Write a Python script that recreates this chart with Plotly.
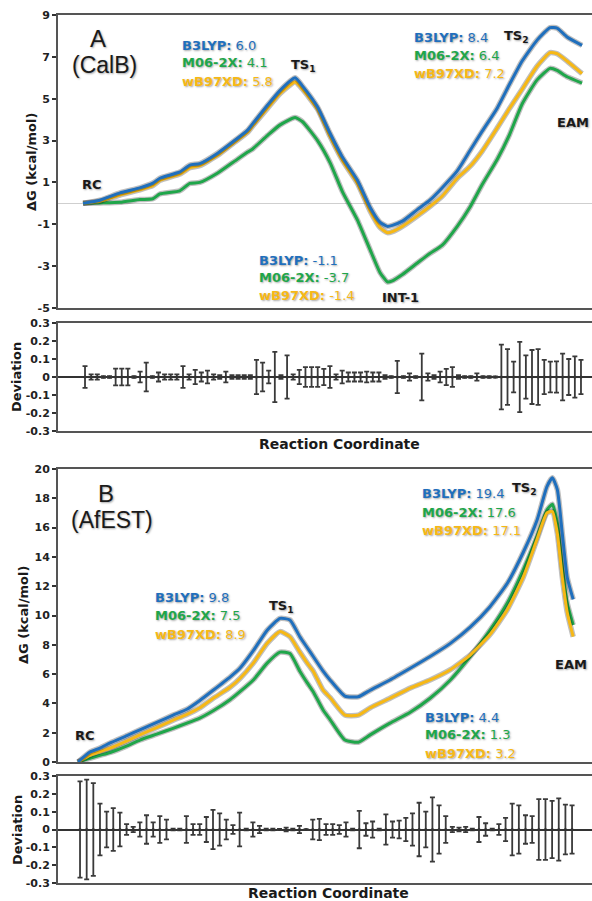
import plotly.graph_objects as go

W, H = 592, 901

methods = ["B3LYP", "M06-2X", "wB97XD"]
colors = {"B3LYP": "#1f6fbd", "M06-2X": "#1fa64a", "wB97XD": "#f6b816"}

# ---------------- Panel A (CalB) free-energy profiles ----------------
xA = [0, 3.4, 7.4, 11.4, 14, 15.4, 19.4, 21.4, 23.4, 27, 30, 33, 34, 37, 39.5,
      42.5, 44, 47, 49.5, 52, 55, 57.5, 59.5, 61, 62, 64, 67, 69.5, 72, 75,
      77.5, 80, 83, 85.5, 88, 91, 93.6, 95, 97, 100]
gA_B3LYP = [0, 0.15, 0.5, 0.74, 0.97, 1.2, 1.5, 1.83, 1.9, 2.4, 2.93, 3.5, 3.8, 4.7, 5.4,
            6.0, 5.6, 4.6, 3.35, 2.2, 1.1, -0.17, -0.9, -1.1, -1.05, -0.85, -0.3, 0.15, 0.75, 1.55,
            2.5, 3.45, 4.55, 5.7, 6.8, 7.8, 8.4, 8.37, 7.95, 7.55]
gA_M062X = [0, 0.02, 0.05, 0.18, 0.22, 0.45, 0.6, 0.95, 1.0, 1.45, 1.95, 2.45, 2.6, 3.25, 3.75,
            4.1, 3.9, 3.0, 1.95, 0.55, -0.8, -2.2, -3.3, -3.75, -3.7, -3.4, -2.85, -2.4, -2.0, -1.1,
            -0.2, 0.9, 2.1, 3.3, 4.75, 5.9, 6.45, 6.35, 6.05, 5.75]
gA_wB97XD = [0, 0.1, 0.4, 0.65, 0.85, 1.1, 1.4, 1.7, 1.8, 2.3, 2.85, 3.4, 3.7, 4.55, 5.25,
             5.8, 5.45, 4.5, 3.2, 2.05, 0.95, -0.35, -1.15, -1.4, -1.35, -1.1, -0.6, -0.15, 0.35, 1.2,
             1.75, 2.5, 3.6, 4.55, 5.45, 6.55, 7.2, 7.15, 6.8, 6.2]
ts1A = [6.0, 4.1, 5.8]
int1A = [-1.1, -3.7, -1.4]
ts2A = [8.4, 6.4, 7.2]
yticksA = [-5, -3, -1, 1, 3, 5, 7, 9]

devA = [0.06, 0.015, 0.015, 0.005, 0.005, 0.047, 0.047, 0.047, 0.005, 0.03,
        0.08, 0.005, 0.025, 0.015, 0.015, 0.015, 0.06, 0.015, 0.04, 0.025,
        0.035, 0.015, 0.01, 0.03, 0.01, 0.01, 0.01, 0.01, 0.095, 0.08,
        0.035, 0.14, 0.01, 0.12, 0.015, 0.04, 0.055, 0.055, 0.055, 0.045,
        0.06, 0.015, 0.035, 0.025, 0.025, 0.025, 0.03, 0.025, 0.025, 0.01,
        0.005, 0.09, 0.005, 0.02, 0.005, 0.13, 0.02, 0.01, 0.03, 0.045,
        0.055, 0.01, 0.005, 0.005, 0.02, 0.005, 0.005, 0.003, 0.18, 0.155,
        0.085, 0.195, 0.12, 0.15, 0.155, 0.095, 0.085, 0.087, 0.13, 0.1,
        0.115, 0.095]

# ---------------- Panel B (AfEST) free-energy profiles ----------------
xB = [0, 2.4, 4.4, 6.5, 9.9, 12.5, 15.9, 19.2, 22, 24.6, 27.3, 30.7, 32.7, 35.4, 38.2,
      40.8, 42.8, 44.8, 46.3, 47.5, 49.5, 50.9, 53.9, 56.6, 59, 63, 67.1, 71.1, 75.2, 79.2,
      83.2, 86.7, 89.9, 92.7, 94.7, 95.8, 96.8, 97.8, 98.8, 100]
gB_B3LYP = [0, 0.68, 0.95, 1.3, 1.8, 2.2, 2.7, 3.2, 3.6, 4.2, 4.9, 5.8, 6.4, 7.6, 9.0,
            9.8, 9.7, 8.55, 7.8, 7.2, 6.2, 5.6, 4.5, 4.45, 4.9, 5.6, 6.4, 7.2, 8.1, 9.2,
            10.6, 12.2, 14.3, 16.5, 18.8, 19.4, 18.6, 15.6, 12.6, 11.1]
gB_M062X = [0, 0.25, 0.45, 0.65, 1.1, 1.5, 1.9, 2.3, 2.65, 3.0, 3.5, 4.25, 4.8, 5.6, 6.75,
            7.5, 7.4, 6.2, 5.4, 4.8, 3.55, 2.9, 1.5, 1.35, 1.85, 2.65, 3.4, 4.35, 5.6, 7.2,
            9.0, 10.85, 13.1, 15.4, 17.2, 17.6, 16.3, 13.3, 10.85, 9.35]
gB_wB97XD = [0, 0.45, 0.7, 0.95, 1.45, 1.85, 2.35, 2.85, 3.25, 3.7, 4.35, 5.1, 5.7, 6.75, 8.1,
             8.9, 8.55, 7.5, 6.75, 6.2, 4.9, 4.4, 3.2, 3.2, 3.7, 4.35, 5.05, 5.6, 6.3, 7.3,
             8.7, 10.4, 12.6, 15.2, 17.0, 17.1, 15.6, 12.6, 10.2, 8.55]
ts1B = [9.8, 7.5, 8.9]
int1B = [4.4, 1.3, 3.2]
ts2B = [19.4, 17.6, 17.1]
yticksB = list(range(0, 21, 2))

devB = [0.27, 0.28, 0.26, 0.145, 0.1, 0.12, 0.095, 0.03, 0.015, 0.04,
        0.08, 0.04, 0.075, 0.055, 0.005, 0.005, 0.075, 0.03, 0.03, 0.07,
        0.11, 0.09, 0.055, 0.025, 0.095, 0.005, 0.04, 0.02, 0.005, 0.005,
        0.003, 0.01, 0.005, 0.02, 0.002, 0.055, 0.06, 0.03, 0.03, 0.025,
        0.04, 0.005, 0.105, 0.035, 0.045, 0.005, 0.085, 0.045, 0.05, 0.065,
        0.09, 0.15, 0.1, 0.18, 0.135, 0.075, 0.015, 0.01, 0.015, 0.005,
        0.07, 0.035, 0.005, 0.03, 0.065, 0.145, 0.135, 0.08, 0.075, 0.17,
        0.17, 0.16, 0.175, 0.14, 0.135]
devticks = [0.3, 0.2, 0.1, 0, -0.1, -0.2, -0.3]


def px(x):
    return x / W


def py(y):
    return 1 - y / H


FONT = "DejaVu Sans"
SHADOW = "1px 1px 2px rgba(0,0,0,0.35)"
fig = go.Figure()


def add_curves(x, series, xa, ya):
    for name, yv in series:
        fig.add_trace(go.Scatter(x=x, y=yv, mode="lines", xaxis=xa, yaxis=ya,
                                 line=dict(color="rgba(0,0,0,0.25)", width=5.5, shape="spline", smoothing=0.5),
                                 hoverinfo="skip", showlegend=False))
        fig.add_trace(go.Scatter(x=x, y=yv, mode="lines", xaxis=xa, yaxis=ya, name=name,
                                 line=dict(color=colors[name], width=3, shape="spline", smoothing=0.5),
                                 showlegend=False))


add_curves(xA, [("M06-2X", gA_M062X), ("wB97XD", gA_wB97XD), ("B3LYP", gA_B3LYP)], "x", "y")
add_curves(xB, [("M06-2X", gB_M062X), ("wB97XD", gB_wB97XD), ("B3LYP", gB_B3LYP)], "x3", "y3")


def add_dev(dev, xa, ya):
    idx = list(range(len(dev)))
    fig.add_trace(go.Scatter(x=idx, y=[0] * len(dev), mode="markers", xaxis=xa, yaxis=ya,
                             marker=dict(size=3, color="#333"),
                             error_y=dict(type="data", array=dev, visible=True, color="#3a3a3a",
                                          thickness=1.8, width=2.5),
                             showlegend=False))


add_dev(devA, "x2", "y2")
add_dev(devB, "x4", "y4")

frame = dict(showline=True, mirror=True, linecolor="#555", linewidth=2, automargin=False)
tickfont = dict(family=FONT, size=11, color="#222", weight="bold")
xdom = [0.098, 1.0]


def fmt(v):
    return f"{v:g}"


def xax(rng, anchor):
    return dict(domain=xdom, range=rng, showticklabels=False, ticks="",
                showgrid=False, zeroline=False, anchor=anchor, **frame)


def yax(dom, rng, tv, anchor, zl=None):
    d = dict(domain=dom, range=rng, tickvals=tv, ticktext=[fmt(v) for v in tv],
             ticks="outside", ticklen=4, tickwidth=1.5, tickcolor="#333",
             tickfont=tickfont, showgrid=False, anchor=anchor, **frame)
    if zl:
        d.update(zeroline=True, zerolinecolor=zl[0], zerolinewidth=zl[1])
    else:
        d.update(zeroline=False)
    return d


fig.update_layout(
    width=W, height=H, margin=dict(l=0, r=0, t=0, b=0, pad=0, autoexpand=False),
    paper_bgcolor="white", plot_bgcolor="white", showlegend=False,
    xaxis=xax([-5.01, 102.0], "y"),
    yaxis=yax([py(308), py(15)], [-5, 9], yticksA, "x", ("#cfcfcf", 1)),
    xaxis2=xax([-4.41, 82.8], "y2"),
    yaxis2=yax([py(431), py(323)], [-0.3, 0.3], devticks, "x2", ("#333", 1.5)),
    xaxis3=xax([-4.04, 103.8], "y3"),
    yaxis3=yax([py(762), py(469)], [0, 20], yticksB, "x3"),
    xaxis4=xax([-3.31, 77.0], "y4"),
    yaxis4=yax([py(883), py(776)], [-0.3, 0.3], devticks, "x4", ("#333", 1.5)),
)

ann = []


def text(x, y, t, size=13, color="#1a1a1a", family=FONT, xanchor="center", angle=0, shadow=SHADOW):
    ann.append(dict(x=px(x), y=py(y), xref="paper", yref="paper", text=t, showarrow=False,
                    xanchor=xanchor, yanchor="middle", textangle=angle,
                    font=dict(family=family, size=size, color=color, shadow=shadow)))


def values_block(x, ys, vals):
    for m, y, v in zip(methods, ys, vals):
        text(x, y, f"<b>{m}:</b> {v:.1f}", color=colors[m], xanchor="left")


# Panel A
text(98, 38, "A", size=24, family="Liberation Sans")
text(104, 65, "(CalB)", size=23, family="Liberation Sans")
values_block(180, [45, 62, 81], ts1A)
values_block(257, [260, 277, 295], int1A)
values_block(412, [37, 55, 73], ts2A)
text(303, 66, "<b>TS<sub>1</sub></b>")
text(92, 184, "<b>RC</b>")
text(400, 297, "<b>INT-1</b>")
text(516, 36, "<b>TS<sub>2</sub></b>")
text(573, 122, "<b>EAM</b>")
text(32, 162, "<b>ΔG (kcal/mol)</b>", size=13, angle=-90, shadow="none")
text(17, 377, "<b>Deviation</b>", size=13, angle=-90, shadow="none")
text(339, 444, "<b>Reaction Coordinate</b>", size=14, shadow="none")

# Panel B
text(106, 493, "B", size=24, family="Liberation Sans")
text(112, 520, "(AfEST)", size=23, family="Liberation Sans")
values_block(153, [597, 615, 634], ts1B)
values_block(423, [717, 734, 753], int1B)
values_block(420, [493, 512, 530], ts2B)
text(281, 606, "<b>TS<sub>1</sub></b>")
text(85, 735, "<b>RC</b>")
text(524, 488, "<b>TS<sub>2</sub></b>")
text(571, 664, "<b>EAM</b>")
text(23, 615, "<b>ΔG (kcal/mol)</b>", size=13, angle=-90, shadow="none")
text(17, 830, "<b>Deviation</b>", size=13, angle=-90, shadow="none")
text(328, 893, "<b>Reaction Coordinate</b>", size=14, shadow="none")

fig.update_layout(annotations=ann)
fig.write_html("out.html", config={"displayModeBar": False},
               post_script="document.body.style.margin='0';")
